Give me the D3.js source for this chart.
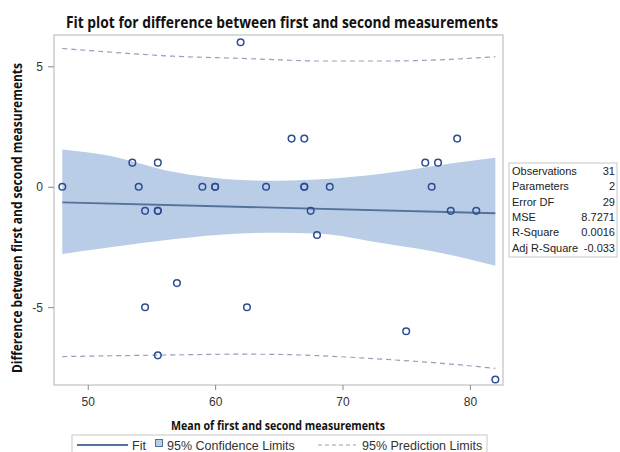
<!DOCTYPE html>
<html>
<head>
<meta charset="utf-8">
<script src="https://cdn.jsdelivr.net/npm/d3@7"></script>
<style>
  body { margin: 0; background: #fff; }
  text { font-family: "Liberation Sans", Arial, sans-serif; }
  .bold { font-family: "Liberation Sans Narrow", "Open Sans", sans-serif; font-weight: bold; }
</style>
</head>
<body>
<script>

// observed points: mean of the two measurements, and their difference
var meanX = [48, 53.5, 54, 54.5, 54.5, 55.5, 55.5, 55.5, 55.5, 57, 59, 60, 60, 62, 62.5, 64,
             66, 67, 67, 67, 67.5, 68, 69, 75, 76.5, 77, 77.5, 78.5, 79, 80.5, 82];
var diffY = [0, 1, 0, -1, -5, 1, -1, -1, -7, -4, 0, 0, 0, 6, -5, 0,
             2, 2, 0, 0, -1, -2, 0, -6, 1, 0, 1, -1, 2, -1, -8];

var fitX = [48, 82];
var fitY = [-0.65, -1.10];
var bandX   = [48, 51.5, 56.7, 62, 65, 68, 73.2, 78.5, 82];
var ciUpper = [1.55, 1.31, 0.62, 0.28, 0.25, 0.30, 0.55, 0.97, 1.20];
var ciLower = [-2.79, -2.53, -2.18, -1.94, -1.91, -1.94, -2.35, -2.83, -3.28];
var piUpper = [5.74, 5.60, 5.42, 5.33, 5.27, 5.22, 5.22, 5.29, 5.40];
var piLower = [-7.05, -7.02, -6.98, -6.95, -6.96, -7.01, -7.16, -7.36, -7.54];

var xTicks = [50, 60, 70, 80];
var yTicks = [5, 0, -5];

var statLabels = ["Observations", "Parameters", "Error DF", "MSE", "R-Square", "Adj R-Square"];
var statValues = ["31", "2", "29", "8.7271", "0.0016", "-0.033"];

var legendLabels = ["Fit", "95% Confidence Limits", "95% Prediction Limits"];

var W = 620, H = 452;
var plot = { left: 54, top: 35, right: 503, bottom: 385 };

var svg = d3.select("body").append("svg")
    .attr("width", W)
    .attr("height", H);

var x = d3.scaleLinear().domain([47.35, 82.6]).range([plot.left, plot.right]);
var y = d3.scaleLinear().domain([-8.23, 6.3]).range([plot.bottom, plot.top]);

// title
svg.append("text").attr("class", "bold")
    .attr("x", 282).attr("y", 28)
    .attr("text-anchor", "middle")
    .attr("font-size", "15.5px").attr("fill", "#111")
    .attr("textLength", 432).attr("lengthAdjust", "spacingAndGlyphs")
    .text("Fit plot for difference between first and second measurements");

// band data
var bandData = bandX.map(function (d, i) {
    return { x: d, cl: ciLower[i], cu: ciUpper[i], pl: piLower[i], pu: piUpper[i] };
});

var ciArea = d3.area()
    .x(function (d) { return x(d.x); })
    .y0(function (d) { return y(d.cl); })
    .y1(function (d) { return y(d.cu); })
    .curve(d3.curveMonotoneX);

svg.append("path").datum(bandData)
    .attr("d", ciArea)
    .attr("fill", "#b9cde6");

// fit line
var fitData = fitX.map(function (d, i) { return [d, fitY[i]]; });
svg.append("path").datum(fitData)
    .attr("d", d3.line().x(function (d) { return x(d[0]); }).y(function (d) { return y(d[1]); }))
    .attr("fill", "none").attr("stroke", "#53729b").attr("stroke-width", 1.8);

// prediction limits
var piLine = function (key) {
    return d3.line()
        .x(function (d) { return x(d.x); })
        .y(function (d) { return y(d[key]); })
        .curve(d3.curveMonotoneX);
};
["pu", "pl"].forEach(function (k) {
    svg.append("path").datum(bandData)
        .attr("d", piLine(k))
        .attr("fill", "none").attr("stroke", "#969fbc")
        .attr("stroke-width", 1.2).attr("stroke-dasharray", "5,4");
});

// points
svg.selectAll("circle.pt").data(meanX).enter().append("circle")
    .attr("class", "pt")
    .attr("cx", function (d) { return x(d); })
    .attr("cy", function (d, i) { return y(diffY[i]); })
    .attr("r", 3.3)
    .attr("fill", "none")
    .attr("stroke", "#2d4c92")
    .attr("stroke-width", 1.5);

// frame
svg.append("rect")
    .attr("x", plot.left).attr("y", plot.top)
    .attr("width", plot.right - plot.left).attr("height", plot.bottom - plot.top)
    .attr("fill", "none").attr("stroke", "#b4b4b4").attr("stroke-width", 1);

// axes (plain hyphen for negatives, as in the original)
var xAxis = svg.append("g")
    .attr("transform", "translate(0," + plot.bottom + ")")
    .call(d3.axisBottom(x).tickValues(xTicks).tickFormat(String).tickSize(5).tickPadding(7));
var yAxis = svg.append("g")
    .attr("transform", "translate(" + plot.left + ",0)")
    .call(d3.axisLeft(y).tickValues(yTicks).tickFormat(String).tickSize(6).tickPadding(5));
[xAxis, yAxis].forEach(function (g) {
    g.select(".domain").remove();
    g.selectAll(".tick line").attr("stroke", "#888");
    g.selectAll(".tick text").attr("fill", "#333").attr("font-size", "12px")
        .attr("font-family", "'Liberation Sans', Arial, sans-serif");
});

// axis titles
svg.append("text").attr("class", "bold")
    .attr("x", 278).attr("y", 430)
    .attr("text-anchor", "middle")
    .attr("font-size", "13px").attr("fill", "#111")
    .attr("textLength", 214).attr("lengthAdjust", "spacingAndGlyphs")
    .text("Mean of first and second measurements");

svg.append("text").attr("class", "bold")
    .attr("transform", "translate(22,218) rotate(-90)")
    .attr("text-anchor", "middle")
    .attr("font-size", "13.5px").attr("fill", "#111")
    .attr("textLength", 310).attr("lengthAdjust", "spacingAndGlyphs")
    .text("Difference between first and second measurements");

// statistics table
var tbl = svg.append("g");
tbl.append("rect")
    .attr("x", 509).attr("y", 163).attr("width", 108).attr("height", 94)
    .attr("fill", "#fff").attr("stroke", "#c8c8c8");
statLabels.forEach(function (s, i) {
    tbl.append("text")
        .attr("x", 512).attr("y", 175 + i * 15.3)
        .attr("font-size", "11px").attr("fill", "#222")
        .text(s);
    tbl.append("text")
        .attr("x", 615).attr("y", 175 + i * 15.3)
        .attr("text-anchor", "end")
        .attr("font-size", "11px").attr("fill", "#222")
        .text(statValues[i]);
});

// legend
var lg = svg.append("g");
lg.append("rect")
    .attr("x", 72).attr("y", 435).attr("width", 415).attr("height", 30)
    .attr("fill", "#fff").attr("stroke", "#c8c8c8");
lg.append("line")
    .attr("x1", 77).attr("x2", 128).attr("y1", 445).attr("y2", 445)
    .attr("stroke", "#53729b").attr("stroke-width", 2);
lg.append("text").attr("x", 132).attr("y", 449.5)
    .attr("font-size", "12.5px").attr("fill", "#333").text(legendLabels[0]);
lg.append("rect")
    .attr("x", 155.5).attr("y", 439.5).attr("width", 7).attr("height", 7)
    .attr("fill", "#b9cde6").attr("stroke", "#53729b").attr("stroke-width", 1);
lg.append("text").attr("x", 167).attr("y", 449.5)
    .attr("font-size", "12.5px").attr("fill", "#333").text(legendLabels[1]);
lg.append("line")
    .attr("x1", 318).attr("x2", 356).attr("y1", 445).attr("y2", 445)
    .attr("stroke", "#969fbc").attr("stroke-width", 1.2).attr("stroke-dasharray", "4,3");
lg.append("text").attr("x", 362).attr("y", 449.5)
    .attr("font-size", "12.5px").attr("fill", "#333").text(legendLabels[2]);

</script>
</body>
</html>
